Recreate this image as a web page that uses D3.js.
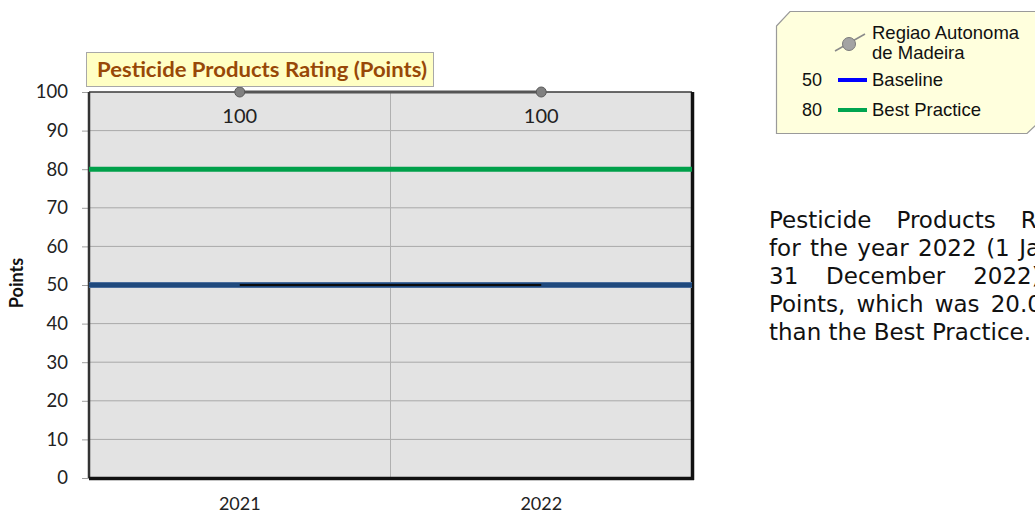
<!DOCTYPE html>
<html>
<head>
<meta charset="utf-8">
<script src="https://cdn.jsdelivr.net/npm/d3@7"></script>
<style>
  html, body { margin: 0; padding: 0; background: #ffffff; overflow: hidden; }
  svg { display: block; }
</style>
</head>
<body>
<svg id="chart" width="1035" height="514"></svg>
<script>
// Chart data
const categories = ["2021", "2022"];
const regionValues = [100, 100];       // Regiao Autonoma de Madeira
const regionRefValues = [50, 50];      // reference line drawn between the data points
const baselineValue = 50;
const bestPracticeValue = 80;
const yTicks = [0, 10, 20, 30, 40, 50, 60, 70, 80, 90, 100];
const chartTitle = "Pesticide Products Rating (Points)";
const yAxisTitle = "Points";
const legendItems = [
  { label: ["Regiao Autonoma", "de Madeira"], value: null, kind: "series" },
  { label: ["Baseline"], value: baselineValue, kind: "baseline" },
  { label: ["Best Practice"], value: bestPracticeValue, kind: "best" }
];
const paragraphLines = [
  "Pesticide Products Rating (Points)",
  "for the year 2022 (1 January 2022 to",
  "31 December 2022) was 100.0",
  "Points, which was 20.0 Points higher",
  "than the Best Practice."
];

const svg = d3.select("#chart");
const plot = { left: 89, right: 692, top: 92, bottom: 478 };

const x = d3.scaleBand().domain(categories).range([plot.left, plot.right]);
const y = d3.scaleLinear().domain([0, 100]).range([plot.bottom, plot.top]);
const cx = d => x(d) + x.bandwidth() / 2;

const chartFont = "Lato, 'Open Sans', sans-serif";

// Plot background
svg.append("rect")
  .attr("x", plot.left).attr("y", plot.top)
  .attr("width", plot.right - plot.left).attr("height", plot.bottom - plot.top)
  .attr("fill", "#e3e3e3");

// Horizontal gridlines
svg.append("g").selectAll("line")
  .data(yTicks.filter(t => t > 0 && t < 100))
  .join("line")
  .attr("x1", plot.left).attr("x2", plot.right)
  .attr("y1", d => y(d)).attr("y2", d => y(d))
  .attr("stroke", "#a9a9a9").attr("stroke-width", 1);

// Vertical gridline between categories
svg.append("line")
  .attr("x1", x(categories[1])).attr("x2", x(categories[1]))
  .attr("y1", plot.top).attr("y2", plot.bottom)
  .attr("stroke", "#b0b0b0").attr("stroke-width", 1);

// Y axis
const yAxis = d3.axisLeft(y).tickValues(yTicks).tickSize(7).tickPadding(14);
const yg = svg.append("g").attr("transform", `translate(${plot.left},0)`).call(yAxis);
yg.select(".domain").remove();
yg.selectAll(".tick line").attr("stroke", "#a0a0a0");
yg.selectAll(".tick text")
  .attr("font-family", chartFont).attr("font-size", 18.5).attr("fill", "#222");

// X axis labels
const xAxis = d3.axisBottom(x).tickSize(0).tickPadding(19);
const xg = svg.append("g").attr("transform", `translate(0,${plot.bottom})`).call(xAxis);
xg.select(".domain").remove();
xg.selectAll(".tick text")
  .attr("font-family", chartFont).attr("font-size", 18).attr("fill", "#222");

// Plot frame: thin top/left, heavy bottom/right
svg.append("line")
  .attr("x1", plot.left).attr("x2", plot.right)
  .attr("y1", plot.top).attr("y2", plot.top)
  .attr("stroke", "#3a3a3a").attr("stroke-width", 1.5);
svg.append("line")
  .attr("x1", plot.left).attr("x2", plot.left)
  .attr("y1", plot.top).attr("y2", plot.bottom)
  .attr("stroke", "#333").attr("stroke-width", 2.5);
svg.append("line")
  .attr("x1", plot.left).attr("x2", plot.right + 2)
  .attr("y1", plot.bottom + 0.5).attr("y2", plot.bottom + 0.5)
  .attr("stroke", "#111").attr("stroke-width", 3.5);
svg.append("line")
  .attr("x1", plot.right + 0.5).attr("x2", plot.right + 0.5)
  .attr("y1", plot.top).attr("y2", plot.bottom + 2)
  .attr("stroke", "#111").attr("stroke-width", 3.5);

// Best practice and baseline reference lines
svg.append("line")
  .attr("x1", plot.left).attr("x2", plot.right)
  .attr("y1", y(bestPracticeValue)).attr("y2", y(bestPracticeValue))
  .attr("stroke", "#00a04a").attr("stroke-width", 5);
svg.append("line")
  .attr("x1", plot.left).attr("x2", plot.right)
  .attr("y1", y(baselineValue)).attr("y2", y(baselineValue))
  .attr("stroke", "#4a6d9c").attr("stroke-width", 6);
svg.append("line")
  .attr("x1", plot.left).attr("x2", plot.right)
  .attr("y1", y(baselineValue)).attr("y2", y(baselineValue))
  .attr("stroke", "#1f497d").attr("stroke-width", 4);

// Reference segment at the data points
const line = d3.line().x((d, i) => cx(categories[i])).y(d => y(d));
svg.append("path").datum(regionRefValues)
  .attr("d", line).attr("fill", "none")
  .attr("stroke", "#0b0b0b").attr("stroke-width", 2);

// Region series
svg.append("path").datum(regionValues)
  .attr("d", line).attr("fill", "none")
  .attr("stroke", "#555").attr("stroke-width", 3);
svg.append("g").selectAll("circle")
  .data(regionValues)
  .join("circle")
  .attr("cx", (d, i) => cx(categories[i])).attr("cy", d => y(d))
  .attr("r", 5).attr("fill", "#808080").attr("stroke", "#5a5a5a").attr("stroke-width", 1);

// Data labels
svg.append("g").selectAll("text")
  .data(regionValues)
  .join("text")
  .attr("x", (d, i) => cx(categories[i])).attr("y", d => y(d) + 31)
  .attr("text-anchor", "middle")
  .attr("font-family", chartFont).attr("font-size", 20).attr("fill", "#222")
  .text(d => d3.format("d")(d));

// Chart title box
const titleG = svg.append("g");
titleG.append("rect")
  .attr("x", 86.5).attr("y", 52.5)
  .attr("width", 347).attr("height", 34)
  .attr("fill", "#ffffc4").attr("stroke", "#a8a8a8").attr("stroke-width", 1);
titleG.append("text")
  .attr("x", 97).attr("y", 77)
  .attr("font-family", chartFont).attr("font-weight", "bold").attr("font-size", 20.5)
  .attr("textLength", 330).attr("lengthAdjust", "spacingAndGlyphs")
  .attr("fill", "#984807")
  .text(chartTitle);

// Y axis title
svg.append("text")
  .attr("transform", `translate(23,${y(50) - 2}) rotate(-90)`)
  .attr("text-anchor", "middle")
  .attr("font-family", chartFont).attr("font-weight", "bold").attr("font-size", 18)
  .attr("fill", "#111")
  .text(yAxisTitle);

// Legend panel
const legendFont = "'Liberation Sans', Arial, sans-serif";
const lg = svg.append("g");
lg.append("path")
  .attr("d", "M776.5,26 L790,11.5 L1040,11.5 L1040,121 L1027,133.5 L776.5,133.5 Z")
  .attr("fill", "#ffffdd").attr("stroke", "#9a9a9a").attr("stroke-width", 1.2);

const legendRowY = [45, 80, 110];
legendItems.forEach((item, i) => {
  const ly = legendRowY[i];
  if (item.kind === "series") {
    lg.append("line").attr("x1", 835).attr("y1", 51).attr("x2", 865).attr("y2", 34)
      .attr("stroke", "#8a8a8a").attr("stroke-width", 1.5);
    lg.append("circle").attr("cx", 849).attr("cy", ly - 1).attr("r", 6.5)
      .attr("fill", "#a3a3a3").attr("stroke", "#7a7a7a").attr("stroke-width", 1);
  } else {
    lg.append("line").attr("x1", 838).attr("x2", 867).attr("y1", ly).attr("y2", ly)
      .attr("stroke", item.kind === "baseline" ? "#0000ff" : "#00a550")
      .attr("stroke-width", 4);
    lg.append("text").attr("x", 802).attr("y", ly + 6)
      .attr("font-family", legendFont).attr("font-size", 18).attr("fill", "#111")
      .text(item.value);
  }
  const t = lg.append("text")
    .attr("font-family", legendFont).attr("font-size", 18.5).attr("fill", "#111");
  const startY = item.label.length > 1 ? ly - 6 : ly + 6;
  item.label.forEach((s, k) => {
    t.append("tspan").attr("x", 872).attr("y", startY + k * 20).text(s);
  });
});

// Summary paragraph, justified
const paraFont = "'DejaVu Sans', Verdana, sans-serif";
const paraSize = 23;
const paraX = 769, paraWidth = 438, paraTop = 228, paraLead = 28;
const pg = svg.append("g");
paragraphLines.forEach((ln, i) => {
  const words = ln.split(" ");
  const isLast = i === paragraphLines.length - 1;
  const nodes = words.map(w => pg.append("text")
    .attr("font-family", paraFont).attr("font-size", paraSize).attr("fill", "#111")
    .attr("y", paraTop + i * paraLead).text(w));
  const widths = nodes.map(n => n.node().getComputedTextLength());
  const total = d3.sum(widths);
  const space = paraSize * 0.318;
  const gap = isLast ? space : (paraWidth - total) / (words.length - 1);
  let cursor = paraX;
  nodes.forEach((n, k) => { n.attr("x", cursor); cursor += widths[k] + gap; });
});
</script>
</body>
</html>
